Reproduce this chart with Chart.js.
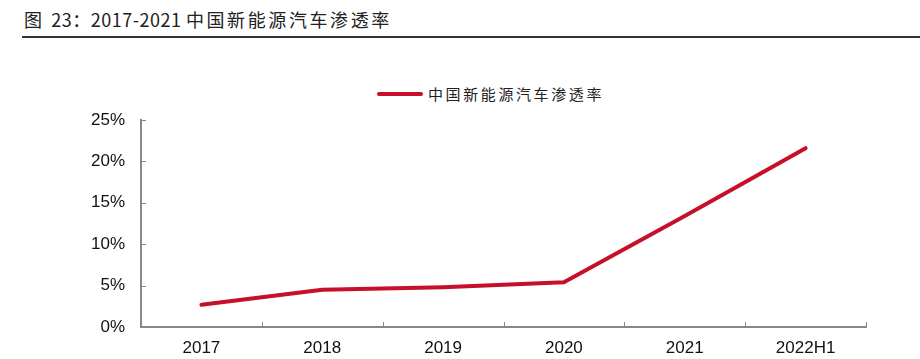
<!DOCTYPE html>
<html>
<head>
<meta charset="utf-8">
<script src="https://cdn.jsdelivr.net/npm/chart.js@4"></script>
<style>
  html, body { margin: 0; padding: 0; background: #fff; }
  #wrap { position: relative; width: 920px; height: 359px; overflow: hidden; }
  #title {
    position: absolute; left: 24px; top: 6px; white-space: pre;
    font: 18px "Noto Sans CJK SC", sans-serif; color: #222;
  }
  #title .num { letter-spacing: 0.5px; }
  #title .cjk { letter-spacing: 2.6px; }
  #rule { position: absolute; left: 22px; right: 0; top: 36px; height: 2px; background: #333; }
  #legend {
    position: absolute; left: 377px; top: 83px; white-space: nowrap;
    font: 15px "Noto Sans CJK SC", sans-serif; color: #222; letter-spacing: 2.6px;
  }
  #legend span.swatch {
    display: inline-block; width: 46px; height: 4px; background: #c8102e;
    border-radius: 2px; vertical-align: middle; margin-right: 5px; position: relative; top: -2px;
  }
  canvas { position: absolute; left: 0; top: 0; }
</style>
</head>
<body>
<div id="wrap">
  <div id="title"><span class="cjk">图 </span><span class="num">23：2017-2021 </span><span class="cjk">中国新能源汽车渗透率</span></div>
  <div id="rule"></div>
  <div id="legend"><span class="swatch"></span>中国新能源汽车渗透率</div>
  <canvas id="chart" width="920" height="359"></canvas>
</div>
<script>
const categories = ["2017", "2018", "2019", "2020", "2021", "2022H1"];
const penetration = [2.7, 4.5, 4.8, 5.4, 13.4, 21.6];
const yTicks = [0, 5, 10, 15, 20, 25];

// inward tick marks, like the source chart
const innerTicks = {
  id: "innerTicks",
  afterDraw(chart) {
    const { ctx, chartArea, scales } = chart;
    ctx.save();
    ctx.strokeStyle = "#888";
    ctx.lineWidth = 1;
    yTicks.forEach((v) => {
      const y = Math.round(scales.y.getPixelForValue(v)) + 0.5;
      ctx.beginPath();
      ctx.moveTo(chartArea.left, y);
      ctx.lineTo(chartArea.left + 5, y);
      ctx.stroke();
    });
    for (let i = 0; i <= categories.length; i++) {
      const x = Math.round(scales.x.getPixelForValue(i - 0.5)) + 0.5;
      ctx.beginPath();
      ctx.moveTo(x, chartArea.bottom);
      ctx.lineTo(x, chartArea.bottom - 5);
      ctx.stroke();
    }
    ctx.restore();
  },
};

new Chart(document.querySelector("#chart"), {
  type: "line",
  data: {
    labels: categories,
    datasets: [{
      label: "中国新能源汽车渗透率",
      data: penetration,
      borderColor: "#c60f28",
      borderWidth: 4,
      pointRadius: 0,
      tension: 0,
      borderCapStyle: "round",
      borderJoinStyle: "round",
    }],
  },
  options: {
    responsive: false,
    animation: false,
    layout: { padding: { top: 120, right: 54, left: 0, bottom: 0 } },
    plugins: { legend: { display: false }, tooltip: { enabled: false } },
    scales: {
      x: {
        offset: true,
        grid: { display: false, drawTicks: false },
        border: { color: "#888", width: 2 },
        ticks: { color: "#111", font: { family: "Liberation Sans", size: 17 }, padding: 11 },
        afterFit: (scale) => { scale.height = 32; },
      },
      y: {
        min: 0,
        max: 25,
        afterBuildTicks: (scale) => { scale.ticks = yTicks.map((v) => ({ value: v })); },
        grid: { display: false, drawTicks: false },
        border: { color: "#888", width: 2 },
        ticks: {
          color: "#111",
          font: { family: "Liberation Sans", size: 17 },
          padding: 16,
          callback: (v) => v + "%",
        },
        afterFit: (scale) => { scale.width = 141; },
      },
    },
  },
  plugins: [innerTicks],
});
</script>
</body>
</html>
